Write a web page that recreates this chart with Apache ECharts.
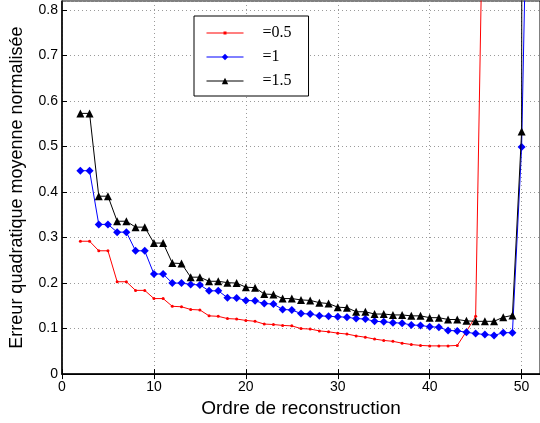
<!DOCTYPE html>
<html>
<head>
<meta charset="utf-8">
<script src="https://cdn.jsdelivr.net/npm/echarts@6/dist/echarts.min.js"></script>
<style>
  html, body { margin: 0; padding: 0; background: #fff; }
  #chart { width: 540px; height: 423px; }
</style>
</head>
<body>
<div id="chart"></div>
<script>
// ---- data ----
const orders = [2,3,4,5,6,7,8,9,10,11,12,13,14,15,16,17,18,19,20,21,22,23,24,25,26,27,28,29,30,31,32,33,34,35,36,37,38,39,40,41,42,43,44,45,46,47,48,49,50,51];
const seriesNames = ['=0.5', '=1', '=1.5'];
const errRed = [0.292,0.292,0.271,0.271,0.203,0.203,0.184,0.184,0.166,0.166,0.149,0.148,0.142,0.141,0.128,0.127,0.122,0.121,0.118,0.116,0.110,0.109,0.107,0.106,0.100,0.099,0.095,0.093,0.090,0.088,0.084,0.081,0.077,0.074,0.072,0.068,0.065,0.063,0.062,0.062,0.062,0.063,0.094,0.127,1.3];
const errBlue = [0.447,0.447,0.329,0.329,0.312,0.312,0.271,0.271,0.220,0.220,0.200,0.200,0.197,0.196,0.183,0.183,0.168,0.167,0.162,0.161,0.155,0.154,0.142,0.141,0.133,0.132,0.128,0.127,0.126,0.125,0.122,0.121,0.116,0.115,0.113,0.112,0.108,0.107,0.104,0.103,0.096,0.095,0.092,0.089,0.087,0.085,0.091,0.091,0.499,1.5];
const errBlack = [0.573,0.573,0.391,0.391,0.336,0.336,0.323,0.323,0.288,0.288,0.244,0.243,0.213,0.213,0.204,0.204,0.201,0.200,0.191,0.190,0.176,0.175,0.166,0.166,0.163,0.162,0.157,0.155,0.147,0.146,0.137,0.137,0.132,0.132,0.130,0.130,0.128,0.128,0.124,0.124,0.120,0.120,0.117,0.116,0.116,0.116,0.125,0.129,0.533,20];
const xTicks = [0, 10, 20, 30, 40, 50];
const yTicks = [0, 0.1, 0.2, 0.3, 0.4, 0.5, 0.6, 0.7, 0.8];

function pairs(vals) { return vals.map((v, i) => [orders[i], v]); }

const chart = echarts.init(document.getElementById('chart'), null, { renderer: 'canvas' });
const labelFont = { fontFamily: 'Liberation Sans, Arial, sans-serif', fontSize: 14, color: '#000' };
const gridLine = { show: true, lineStyle: { color: '#9a9a9a', type: [1, 3], width: 1 } };

chart.setOption({
  animation: false,
  backgroundColor: '#fff',
  grid: { left: 62, right: 0, top: 1, bottom: 45, show: true, borderColor: '#000', borderWidth: 1, backgroundColor: 'transparent' },
  legend: {
    orient: 'vertical',
    left: 194, top: 16,
    padding: [9, 17, 7, 12],
    itemWidth: 37, itemHeight: 8, itemGap: 8,
    backgroundColor: '#fff',
    borderColor: '#000', borderWidth: 1,
    lineStyle: { width: 1 },
    data: [
      { name: seriesNames[0], icon: 'path://M0,4.5h37v1h-37z M17,3.5h3v3h-3z' },
      { name: seriesNames[1] },
      { name: seriesNames[2] }
    ],
    textStyle: { fontFamily: 'Liberation Serif, Times New Roman, serif', fontSize: 16, color: '#000', padding: [0, 0, 0, 14] }
  },
  xAxis: [{
    type: 'value', min: 0, max: 52, interval: 10,
    name: 'Ordre de reconstruction', nameLocation: 'middle', nameGap: 21,
    nameTextStyle: { fontFamily: 'Liberation Sans, Arial, sans-serif', fontSize: 19, color: '#000' },
    axisLine: { show: true, onZero: false, lineStyle: { color: '#000', width: 1.5 } },
    axisTick: { show: true, inside: true, length: 5, lineStyle: { color: '#000' } },
    axisLabel: { ...labelFont, margin: 6, showMaxLabel: false, formatter: v => xTicks.includes(v) ? String(v) : '' },
    splitLine: gridLine
  }, {
    type: 'value', min: 0, max: 52, interval: 10, position: 'top',
    axisLine: { show: true, lineStyle: { color: '#000', width: 1 } },
    axisTick: { show: true, inside: true, length: 5, lineStyle: { color: '#000' } },
    axisLabel: { show: false }, splitLine: { show: false }
  }],
  yAxis: {
    type: 'value', min: 0, max: 0.82, interval: 0.1,
    name: 'Erreur quadratique moyenne normalisée', nameLocation: 'middle', nameGap: 36,
    nameTextStyle: { fontFamily: 'Liberation Sans, Arial, sans-serif', fontSize: 18, color: '#000' },
    axisLine: { show: true, lineStyle: { color: '#000', width: 1.5 } },
    axisTick: { show: true, inside: true, length: 5, lineStyle: { color: '#000' } },
    axisLabel: { ...labelFont, margin: 4, showMaxLabel: false,
      formatter: v => { const r = Math.round(v * 10) / 10; return yTicks.includes(r) ? String(r) : ''; } },
    splitLine: gridLine
  },
  series: [
    { name: seriesNames[0], type: 'line', data: pairs(errRed), color: '#ff0000',
      symbol: 'circle', symbolSize: 3, showAllSymbol: true, lineStyle: { width: 1, color: '#ff0000' },
      itemStyle: { color: '#ff0000' }, clip: true, z: 3 },
    { name: seriesNames[1], type: 'line', data: pairs(errBlue), color: '#0000ff',
      symbol: 'diamond', symbolSize: 8, showAllSymbol: true, lineStyle: { width: 1, color: '#0000ff' },
      itemStyle: { color: '#0000ff' }, clip: true, z: 4 },
    { name: seriesNames[2], type: 'line', data: pairs(errBlack), color: '#000000',
      symbol: 'triangle', symbolSize: 8, showAllSymbol: true, lineStyle: { width: 1, color: '#000' },
      itemStyle: { color: '#000' }, clip: true, z: 5 }
  ]
});
</script>
</body>
</html>
